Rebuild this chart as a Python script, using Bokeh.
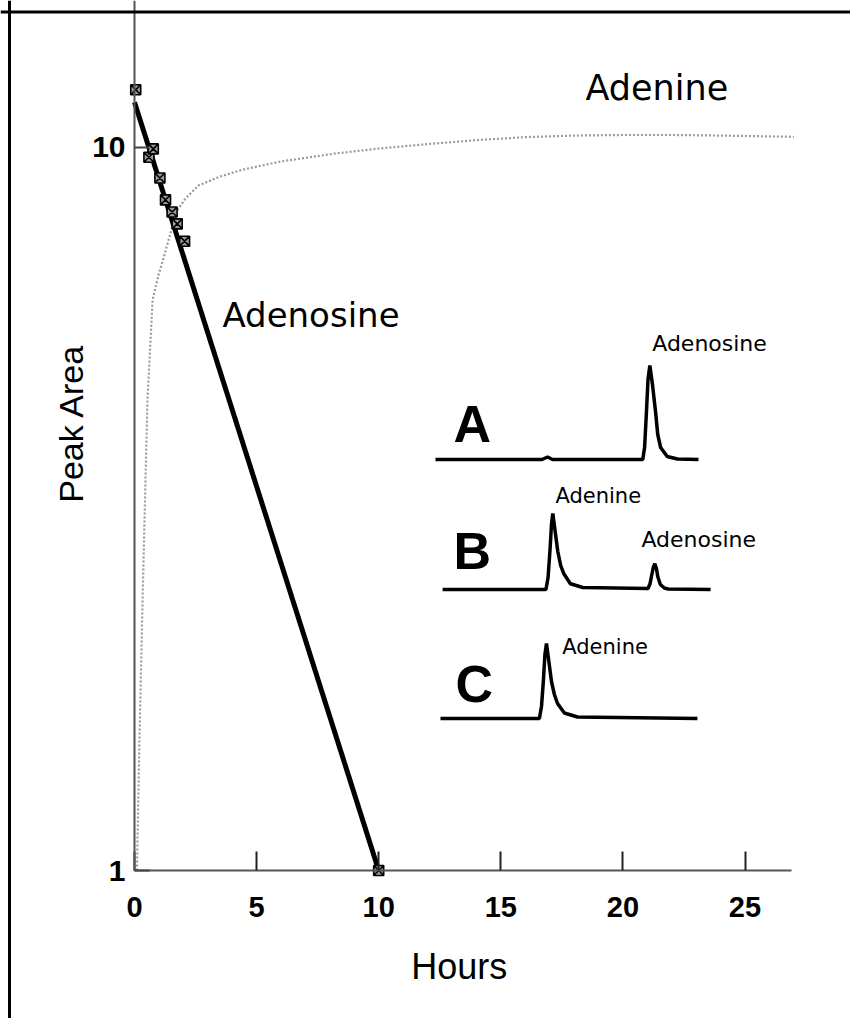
import math
from bokeh.plotting import figure
from bokeh.models import (Range1d, LinearScale, LinearAxis, LogAxis, FixedTicker,
                          PrintfTickFormatter, Label, Span, Grid)
from bokeh.embed import file_html
from bokeh.resources import INLINE

# ---------------- data ----------------
# Adenosine: measured points and log-linear fit (hours, peak area)
adenosine_hours = [0.05, 0.59, 0.77, 1.04, 1.27, 1.54, 1.75, 2.05, 10.0]
adenosine_area = [12.0, 9.68, 9.94, 9.06, 8.45, 8.13, 7.83, 7.41, 1.0]
fit_hours = [0.0, 10.0]
fit_area = [11.53, 1.0]

# Adenine formation curve (hours, peak area)
adenine_hours = [0.1, 0.2, 0.33, 0.53, 0.74, 0.98, 1.2, 1.54, 1.75, 2.1, 2.63,
                 3.5, 4.4, 6.0, 8.27, 10.0, 12.1, 14.0, 16.0, 18.0, 20.0, 22.0,
                 24.0, 27.0]
adenine_area = [1.0, 1.5, 2.36, 4.46, 6.14, 6.65, 7.04, 7.75, 8.17, 8.5, 8.85,
                9.1, 9.3, 9.55, 9.8, 9.95, 10.1, 10.22, 10.32, 10.37, 10.39,
                10.39, 10.37, 10.33]

x_ticks = [0, 5, 10, 15, 20, 25]
y_ticks = [1, 10]

# Inset chromatograms (retention time in min, detector response)
chrom_a_t = [0.0, 4.05, 4.26, 4.45, 7.88, 7.95, 8.02, 8.08, 8.15, 8.25, 8.37,
             8.45, 8.56, 8.81, 9.2, 10.0]
chrom_a_r = [0, 0, 2.5, 0, 0, 12, 47, 80, 94, 75, 47, 25, 12, 3, 0.5, 0]
chrom_b_t = [0.27, 4.2, 4.28, 4.35, 4.41, 4.46, 4.53, 4.65, 4.76, 4.88, 5.13,
             5.6, 8.08, 8.16, 8.21, 8.28, 8.34, 8.40, 8.45, 8.55, 8.7, 8.85, 10.46]
chrom_b_r = [0, 0, 12, 38, 65, 76, 62, 38, 24, 15.7, 5.7, 2, 1, 6, 13, 22, 25.7,
             21, 13, 5, 1.5, 0.5, 0]
chrom_c_t = [0.19, 3.95, 4.03, 4.10, 4.16, 4.22, 4.29, 4.41, 4.52, 4.64, 4.9,
             5.4, 9.96]
chrom_c_r = [0, 0, 12, 37, 64, 75, 61, 37, 24, 15, 5.5, 1.5, 0]
chrom_offsets = {"A": 259, "B": 129, "C": 0}

# ---------------- layout ----------------
W, H = 850, 1018
X0, PXH = 134.0, 24.42      # canvas x of hour 0, px per hour
Y1, PXD = 870.0, 723.5      # canvas y of area 1, px per decade
CX0, PXM = 435.0, 26.3      # inset: canvas x of t=0, px per minute
CY0 = 718.0                 # inset: canvas y of response 0 (trace C)

x_rng = Range1d(-X0 / PXH, (W - X0) / PXH)
y_rng = Range1d(10 ** ((Y1 - H) / PXD), 10 ** (Y1 / PXD))

p = figure(width=W, height=H, output_backend="svg", toolbar_location=None,
           x_axis_location=None, y_axis_location=None, y_axis_type="log",
           x_range=x_rng, y_range=y_rng,
           min_border=0, min_border_left=0, min_border_right=0,
           min_border_top=0, min_border_bottom=0)
p.outline_line_color = None
p.background_fill_color = "white"
p.border_fill_color = "white"
p.center = [r for r in p.center if not isinstance(r, Grid)]

p.extra_x_ranges = {"chrom": Range1d(-CX0 / PXM, (W - CX0) / PXM)}
p.extra_y_ranges = {"chrom": Range1d(-(H - CY0), CY0)}
p.extra_x_scales = {"chrom": LinearScale()}
p.extra_y_scales = {"chrom": LinearScale()}

# outer frame (left and top edges of the scanned box)
p.add_layout(Span(location=(9.0 - X0) / PXH, dimension="height",
                  line_color="black", line_width=3))
p.add_layout(Span(location=10 ** ((Y1 - 11.5) / PXD), dimension="width",
                  line_color="black", line_width=3))

# axes
xaxis = LinearAxis(fixed_location=1.0, bounds=(0, 26.9),
                   ticker=FixedTicker(ticks=x_ticks))
xaxis.axis_line_color = "#555555"
xaxis.axis_line_width = 2
xaxis.major_tick_in = 19
xaxis.major_tick_out = 0
xaxis.major_tick_line_width = 2
xaxis.major_tick_line_color = "#222222"
xaxis.minor_tick_line_color = None
xaxis.major_label_standoff = 26
xaxis.major_label_text_font = "Liberation Sans"
xaxis.major_label_text_font_style = "bold"
xaxis.major_label_text_font_size = "29px"
xaxis.major_label_text_color = "black"
p.add_layout(xaxis, "below")

yaxis = LogAxis(fixed_location=0.0, bounds=(1, y_rng.end),
                ticker=FixedTicker(ticks=y_ticks),
                formatter=PrintfTickFormatter(format="%d"))
yaxis.axis_line_color = "#555555"
yaxis.axis_line_width = 2
yaxis.major_tick_in = 15
yaxis.major_tick_out = 0
yaxis.major_tick_line_width = 2
yaxis.major_tick_line_color = "#444444"
yaxis.minor_tick_line_color = None
yaxis.major_label_standoff = 9
yaxis.major_label_text_font = "Liberation Sans"
yaxis.major_label_text_font_style = "bold"
yaxis.major_label_text_font_size = "30px"
yaxis.major_label_text_color = "black"
p.add_layout(yaxis, "left")

# series
p.line(adenine_hours, adenine_area, line_color="#9a9a9a", line_width=2.2,
       line_dash="2 2")
p.line(fit_hours, fit_area, line_color="black", line_width=5)
p.scatter(adenosine_hours, adenosine_area, marker="square_x", size=10,
          fill_color="#9a9a9a", line_color="black", line_width=1.6)

for key, ts, rs in (("A", chrom_a_t, chrom_a_r), ("B", chrom_b_t, chrom_b_r),
                    ("C", chrom_c_t, chrom_c_r)):
    off = chrom_offsets[key]
    p.line(ts, [r + off for r in rs], line_color="black", line_width=3.5,
           x_range_name="chrom", y_range_name="chrom")

# labels
def lab(x, y, text, size, font="DejaVu Sans", style="normal", chrom=False,
        align="left", angle=0.0):
    kw = dict(x_range_name="chrom", y_range_name="chrom") if chrom else {}
    p.add_layout(Label(x=x, y=y, text=text, text_font=font,
                       text_font_size=size, text_font_style=style,
                       text_align=align, text_baseline="alphabetic",
                       text_color="black", angle=angle, **kw))

lab(3.60, 5.85, "Adenosine", "34px")
lab(18.47, 12.05, "Adenine", "35px")
lab(13.3, 0.737, "Hours", "36px", font="Liberation Sans", align="center")
lab(-2.60, 4.15, "Peak Area", "34px", font="Liberation Sans", align="center",
    angle=math.pi / 2)

lab(0.68, 295, "A", "52px", font="Liberation Sans", style="bold", chrom=True)
lab(0.68, 168, "B", "52px", font="Liberation Sans", style="bold", chrom=True)
lab(0.76, 35, "C", "52px", font="Liberation Sans", style="bold", chrom=True)
lab(8.24, 374.7, "Adenosine", "22px", chrom=True)
lab(4.56, 223, "Adenine", "21px", chrom=True)
lab(7.83, 178.7, "Adenosine", "22px", chrom=True)
lab(4.82, 71.3, "Adenine", "21px", chrom=True)

open("out.html", "w").write(file_html(p, INLINE))
